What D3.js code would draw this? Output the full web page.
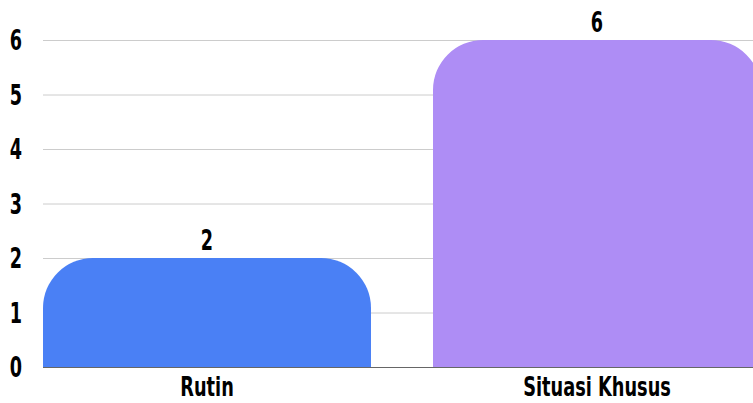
<!DOCTYPE html>
<html>
<head>
<meta charset="utf-8">
<script src="https://cdn.jsdelivr.net/npm/d3@7"></script>
<style>
  body { margin: 0; background: #fff; }
  text { font-family: "DejaVu Sans Condensed", "DejaVu Sans", sans-serif; font-weight: bold; fill: #000; }
</style>
</head>
<body>
<div class="chart"></div>
<script>
// data
var categories = ["Rutin", "Situasi Khusus"];
var values = [2, 6];
var colors = ["#4a80f5", "#ae8df5"];
var yTicks = [0, 1, 2, 3, 4, 5, 6];

var svgWidth = 753;
var svgHeight = 403;
var margin = {top: 40, left: 43, bottom: 36};
var plotBottom = svgHeight - margin.bottom;
var squash = 0.7; // reference font is a narrow one

var svg = d3.select(".chart").append("svg")
  .attr("width", svgWidth).attr("height", svgHeight);

var xScale = d3.scaleBand().domain(categories)
  .range([margin.left, 761]).paddingInner(0.159).paddingOuter(0);
var yScale = d3.scaleLinear().domain([0, 6]).range([plotBottom, margin.top]);

function place(x, y, s) {
  return "translate(" + x + "," + y + ") scale(" + (s || squash) + ",1)";
}

// gridlines
svg.append("g").selectAll("line").data(yTicks.slice(1)).enter().append("line")
  .attr("x1", margin.left).attr("x2", svgWidth)
  .attr("y1", function(d){ return yScale(d) + 0.5; })
  .attr("y2", function(d){ return yScale(d) + 0.5; })
  .attr("stroke", "#cccccc").attr("stroke-width", 1);

// baseline
svg.append("line")
  .attr("x1", margin.left).attr("x2", svgWidth)
  .attr("y1", yScale(0) + 0.5).attr("y2", yScale(0) + 0.5)
  .attr("stroke", "#666").attr("stroke-width", 1);

// y tick labels
svg.append("g").selectAll("text").data(yTicks).enter().append("text")
  .attr("transform", function(d){ return place(16, yScale(d) + 10); })
  .attr("text-anchor", "middle").attr("font-size", "28px")
  .text(function(d){ return d; });

// rounded-top bars
function barPath(x, y, w, h, r) {
  r = Math.min(r, w / 2, h);
  return "M" + x + "," + (y + h) +
    "V" + (y + r) +
    "A" + r + "," + r + " 0 0 1 " + (x + r) + "," + y +
    "H" + (x + w - r) +
    "A" + r + "," + r + " 0 0 1 " + (x + w) + "," + (y + r) +
    "V" + (y + h) + "Z";
}

svg.append("g").selectAll("path").data(values).enter().append("path")
  .attr("d", function(d, i){
    var x = xScale(categories[i]);
    var y = yScale(d);
    return barPath(x, y, xScale.bandwidth(), yScale(0) - y, 50);
  })
  .attr("fill", function(d, i){ return colors[i]; });

// value labels
svg.append("g").selectAll("text").data(values).enter().append("text")
  .attr("transform", function(d, i){
    return place(xScale(categories[i]) + xScale.bandwidth() / 2, yScale(d) - 8);
  })
  .attr("text-anchor", "middle").attr("font-size", "28px")
  .text(function(d){ return d; });

// category labels
svg.append("g").selectAll("text").data(categories).enter().append("text")
  .attr("transform", function(d){
    return place(xScale(d) + xScale.bandwidth() / 2, plotBottom + 29, 0.76);
  })
  .attr("text-anchor", "middle").attr("font-size", "26px")
  .text(function(d){ return d; });
</script>
</body>
</html>
